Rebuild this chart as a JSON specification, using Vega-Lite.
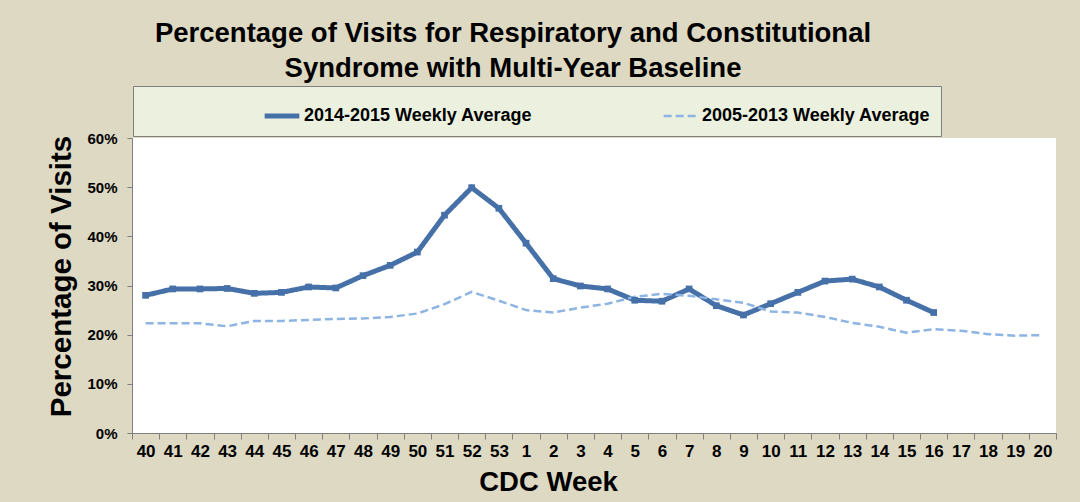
{
  "$schema": "https://vega.github.io/schema/vega-lite/v6.json",
  "autosize": "none",
  "width": 924,
  "height": 295,
  "padding": {"left": 132, "top": 138, "right": 24, "bottom": 69},
  "background": "#DDD9C3",
  "config": {
    "view": {"fill": "white", "stroke": null},
    "font": "Liberation Sans"
  },
  "title": {
    "text": ["Percentage of Visits for Respiratory and Constitutional", "Syndrome with Multi-Year Baseline"],
    "fontSize": 27.5,
    "fontWeight": "bold",
    "font": "Liberation Sans",
    "color": "black",
    "anchor": "middle",
    "frame": "group",
    "dx": -81,
    "dy": 7,
    "lineHeight": 35,
    "offset": 10
  },
  "data": {
    "values": [
      {"week": "40", "series": "2014-2015 Weekly Average", "value": 28.0},
      {"week": "41", "series": "2014-2015 Weekly Average", "value": 29.3},
      {"week": "42", "series": "2014-2015 Weekly Average", "value": 29.3},
      {"week": "43", "series": "2014-2015 Weekly Average", "value": 29.4},
      {"week": "44", "series": "2014-2015 Weekly Average", "value": 28.4},
      {"week": "45", "series": "2014-2015 Weekly Average", "value": 28.6},
      {"week": "46", "series": "2014-2015 Weekly Average", "value": 29.7},
      {"week": "47", "series": "2014-2015 Weekly Average", "value": 29.5},
      {"week": "48", "series": "2014-2015 Weekly Average", "value": 32.0},
      {"week": "49", "series": "2014-2015 Weekly Average", "value": 34.1},
      {"week": "50", "series": "2014-2015 Weekly Average", "value": 36.8},
      {"week": "51", "series": "2014-2015 Weekly Average", "value": 44.3},
      {"week": "52", "series": "2014-2015 Weekly Average", "value": 49.9},
      {"week": "53", "series": "2014-2015 Weekly Average", "value": 45.7},
      {"week": "1", "series": "2014-2015 Weekly Average", "value": 38.6},
      {"week": "2", "series": "2014-2015 Weekly Average", "value": 31.4},
      {"week": "3", "series": "2014-2015 Weekly Average", "value": 29.9},
      {"week": "4", "series": "2014-2015 Weekly Average", "value": 29.3},
      {"week": "5", "series": "2014-2015 Weekly Average", "value": 27.0},
      {"week": "6", "series": "2014-2015 Weekly Average", "value": 26.8},
      {"week": "7", "series": "2014-2015 Weekly Average", "value": 29.3},
      {"week": "8", "series": "2014-2015 Weekly Average", "value": 25.9},
      {"week": "9", "series": "2014-2015 Weekly Average", "value": 24.0},
      {"week": "10", "series": "2014-2015 Weekly Average", "value": 26.3},
      {"week": "11", "series": "2014-2015 Weekly Average", "value": 28.6},
      {"week": "12", "series": "2014-2015 Weekly Average", "value": 30.9},
      {"week": "13", "series": "2014-2015 Weekly Average", "value": 31.3},
      {"week": "14", "series": "2014-2015 Weekly Average", "value": 29.7},
      {"week": "15", "series": "2014-2015 Weekly Average", "value": 27.0},
      {"week": "16", "series": "2014-2015 Weekly Average", "value": 24.5},
      {"week": "40", "series": "2005-2013 Weekly Average", "value": 22.3},
      {"week": "41", "series": "2005-2013 Weekly Average", "value": 22.3},
      {"week": "42", "series": "2005-2013 Weekly Average", "value": 22.3},
      {"week": "43", "series": "2005-2013 Weekly Average", "value": 21.7},
      {"week": "44", "series": "2005-2013 Weekly Average", "value": 22.8},
      {"week": "45", "series": "2005-2013 Weekly Average", "value": 22.8},
      {"week": "46", "series": "2005-2013 Weekly Average", "value": 23.0},
      {"week": "47", "series": "2005-2013 Weekly Average", "value": 23.2},
      {"week": "48", "series": "2005-2013 Weekly Average", "value": 23.3},
      {"week": "49", "series": "2005-2013 Weekly Average", "value": 23.6},
      {"week": "50", "series": "2005-2013 Weekly Average", "value": 24.3},
      {"week": "51", "series": "2005-2013 Weekly Average", "value": 26.2},
      {"week": "52", "series": "2005-2013 Weekly Average", "value": 28.7},
      {"week": "53", "series": "2005-2013 Weekly Average", "value": 26.9},
      {"week": "1", "series": "2005-2013 Weekly Average", "value": 25.0},
      {"week": "2", "series": "2005-2013 Weekly Average", "value": 24.5},
      {"week": "3", "series": "2005-2013 Weekly Average", "value": 25.5},
      {"week": "4", "series": "2005-2013 Weekly Average", "value": 26.3},
      {"week": "5", "series": "2005-2013 Weekly Average", "value": 27.7},
      {"week": "6", "series": "2005-2013 Weekly Average", "value": 28.3},
      {"week": "7", "series": "2005-2013 Weekly Average", "value": 27.9},
      {"week": "8", "series": "2005-2013 Weekly Average", "value": 27.2},
      {"week": "9", "series": "2005-2013 Weekly Average", "value": 26.5},
      {"week": "10", "series": "2005-2013 Weekly Average", "value": 24.7},
      {"week": "11", "series": "2005-2013 Weekly Average", "value": 24.5},
      {"week": "12", "series": "2005-2013 Weekly Average", "value": 23.6},
      {"week": "13", "series": "2005-2013 Weekly Average", "value": 22.4},
      {"week": "14", "series": "2005-2013 Weekly Average", "value": 21.6},
      {"week": "15", "series": "2005-2013 Weekly Average", "value": 20.4},
      {"week": "16", "series": "2005-2013 Weekly Average", "value": 21.1},
      {"week": "17", "series": "2005-2013 Weekly Average", "value": 20.8},
      {"week": "18", "series": "2005-2013 Weekly Average", "value": 20.1},
      {"week": "19", "series": "2005-2013 Weekly Average", "value": 19.8},
      {"week": "20", "series": "2005-2013 Weekly Average", "value": 19.9}
    ]
  },
  "encoding": {
    "x": {
      "field": "week",
      "type": "ordinal",
      "bandPosition": 0.5,
      "scale": {
        "type": "band",
        "paddingInner": 0,
        "paddingOuter": 0,
        "domain": ["40","41","42","43","44","45","46","47","48","49","50","51","52","53","1","2","3","4","5","6","7","8","9","10","11","12","13","14","15","16","17","18","19","20"]
      },
      "axis": {
        "title": "CDC Week",
        "titleFontSize": 27.5,
        "titleFontWeight": "bold",
        "titleColor": "black",
        "titlePadding": 9,
        "titleX": 416,
        "labelAngle": 0,
        "labelFontSize": 17,
        "labelFontWeight": "bold",
        "labelColor": "black",
        "labelPadding": 4,
        "tickBand": "extent",
        "tickSize": 6,
        "tickColor": "#7F7F7F",
        "domainColor": "#7F7F7F",
        "grid": false
      }
    },
    "y": {
      "field": "value",
      "type": "quantitative",
      "scale": {"domain": [0, 60], "nice": false},
      "axis": {
        "title": "Percentage of Visits",
        "titleFontSize": 29.5,
        "titleFontWeight": "bold",
        "titleColor": "black",
        "titlePadding": 10,
        "titleY": 138,
        "values": [0, 10, 20, 30, 40, 50, 60],
        "labelExpr": "datum.value + '%'",
        "labelFontSize": 15,
        "labelFontWeight": "bold",
        "labelColor": "black",
        "labelPadding": 10,
        "tickSize": 5,
        "tickColor": "#7F7F7F",
        "domainColor": "#7F7F7F",
        "grid": false
      }
    }
  },
  "layer": [
    {
      "mark": {"type": "line"},
      "encoding": {
        "color": {
          "field": "series",
          "type": "nominal",
          "scale": {"domain": ["2014-2015 Weekly Average", "2005-2013 Weekly Average"], "range": ["#4670A8", "#8DB4E2"]},
          "legend": {
            "title": null,
            "orient": "none",
            "legendX": 1,
            "legendY": -52,
            "direction": "horizontal",
            "padding": 10,
            "fillColor": "#EBF1DE",
            "strokeColor": "#7F7F7F",
            "symbolType": "stroke",
            "symbolSize": 1200,
            "symbolOffset": 119,
            "labelOffset": 2,
            "labelFontSize": 18,
            "labelFontWeight": "bold",
            "labelColor": "black",
            "labelLimit": 500,
            "columnPadding": 10
          }
        },
        "strokeDash": {
          "field": "series",
          "type": "nominal",
          "scale": {"domain": ["2014-2015 Weekly Average", "2005-2013 Weekly Average"], "range": [[1, 0], [8, 4]]},
          "legend": {"title": null}
        },
        "strokeWidth": {
          "field": "series",
          "type": "nominal",
          "scale": {"domain": ["2014-2015 Weekly Average", "2005-2013 Weekly Average"], "range": [5, 2.5]},
          "legend": {"title": null}
        }
      }
    },
    {
      "transform": [{"filter": "datum.series === '2014-2015 Weekly Average'"}],
      "mark": {"type": "point", "shape": "square", "filled": true, "size": 45, "opacity": 1, "color": "#4670A8"}
    }
  ]
}
